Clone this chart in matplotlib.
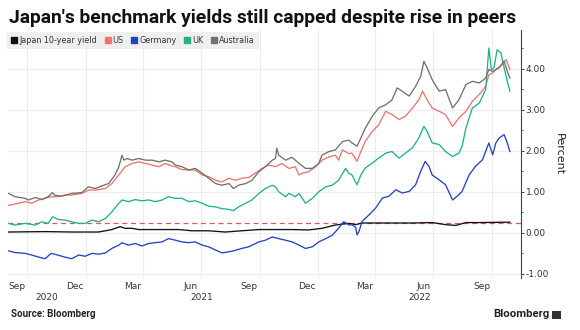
import matplotlib
matplotlib.use('Agg')
import matplotlib.pyplot as plt
import matplotlib.dates as mdates
import matplotlib.transforms as mtransforms
from matplotlib.patches import Rectangle
from matplotlib.lines import Line2D
from matplotlib.ticker import MultipleLocator, FormatStrFormatter
import pandas as pd

# ---------------- data ----------------
title = "Japan's benchmark yields still capped despite rise in peers"
series_names = ["Japan 10-year yield", "US", "Germany", "UK", "Australia"]
series_colors = ["#111111", "#ef7470", "#2443c2", "#1fb38b", "#717171"]
cap_level = 0.25

month_tick_dates = ["2020-09-15", "2020-12-15", "2021-03-15", "2021-06-15", "2021-09-15",
                    "2021-12-15", "2022-03-15", "2022-06-15", "2022-09-15"]
month_tick_labels = ["Sep", "Dec", "Mar", "Jun", "Sep", "Dec", "Mar", "Jun", "Sep"]
grid_dates = ["2020-10-01", "2021-01-01", "2021-04-01", "2021-07-01", "2021-10-01",
              "2022-01-01", "2022-04-01", "2022-07-01", "2022-10-01"]
years = [2020, 2021, 2022]
x_start, x_end = "2020-09-01", "2022-11-15"
y_ticks = [-1, 0, 1, 2, 3, 4]

aus_dates = ['2020-09-02','2020-09-12','2020-09-28','2020-10-03','2020-10-14','2020-10-24','2020-11-03','2020-11-10',
             '2020-11-13','2020-11-24','2020-12-10','2020-12-26','2021-01-05','2021-01-16','2021-01-26','2021-02-06',
             '2021-02-16','2021-02-22','2021-02-27','2021-03-02','2021-03-07','2021-03-15','2021-03-25','2021-04-05',
             '2021-04-15','2021-04-26','2021-05-06','2021-05-16','2021-05-22','2021-06-01','2021-06-12','2021-06-22',
             '2021-07-03','2021-07-13','2021-07-24','2021-08-03','2021-08-14','2021-08-21','2021-08-29','2021-09-09',
             '2021-09-19','2021-09-30','2021-10-10','2021-10-21','2021-10-26','2021-10-28','2021-10-31','2021-11-11',
             '2021-11-21','2021-12-02','2021-12-12','2021-12-23','2022-01-02','2022-01-07','2022-01-18','2022-01-28',
             '2022-02-08','2022-02-18','2022-02-23','2022-03-03','2022-03-09','2022-03-16','2022-03-27','2022-04-06',
             '2022-04-17','2022-04-27','2022-05-05','2022-05-13','2022-05-24','2022-06-03','2022-06-11','2022-06-16',
             '2022-06-21','2022-06-29','2022-07-10','2022-07-20','2022-07-31','2022-08-10','2022-08-21','2022-08-31',
             '2022-09-11','2022-09-21','2022-09-26','2022-10-02','2022-10-12','2022-10-20','2022-10-25','2022-10-29']
aus_vals = [0.96,0.88,0.84,0.80,0.86,0.81,0.88,0.98,0.92,0.89,0.96,0.98,1.12,1.08,1.14,1.20,1.41,1.61,1.89,1.77,
            1.81,1.77,1.81,1.77,1.77,1.73,1.77,1.73,1.65,1.61,1.53,1.57,1.45,1.33,1.20,1.16,1.20,1.08,1.16,1.20,
            1.28,1.49,1.61,1.77,1.81,2.06,1.89,1.77,1.84,1.69,1.57,1.57,1.69,1.89,1.98,2.02,2.22,2.26,2.19,2.11,
            2.31,2.55,2.84,3.04,3.12,3.24,3.53,3.45,3.33,3.57,3.81,4.18,4.02,3.73,3.45,3.49,3.04,3.24,3.61,3.69,
            3.65,3.77,3.98,3.93,4.02,4.18,3.93,3.77]

us_dates = ['2020-09-02','2020-09-12','2020-09-28','2020-10-08','2020-10-19','2020-10-29','2020-11-08','2020-11-18',
            '2020-11-29','2020-12-10','2020-12-26','2021-01-05','2021-01-16','2021-02-01','2021-02-11','2021-02-22',
            '2021-03-04','2021-03-15','2021-03-25','2021-04-05','2021-04-15','2021-04-26','2021-05-06','2021-05-16',
            '2021-05-22','2021-06-01','2021-06-12','2021-06-22','2021-07-03','2021-07-13','2021-07-24','2021-08-03',
            '2021-08-14','2021-08-24','2021-09-03','2021-09-14','2021-09-24','2021-10-05','2021-10-15','2021-10-26',
            '2021-11-05','2021-11-16','2021-11-26','2021-12-02','2021-12-07','2021-12-17','2021-12-28','2022-01-07',
            '2022-01-18','2022-01-28','2022-02-02','2022-02-08','2022-02-18','2022-02-23','2022-03-03','2022-03-09',
            '2022-03-16','2022-03-27','2022-04-06','2022-04-17','2022-04-27','2022-05-08','2022-05-18','2022-05-29',
            '2022-06-08','2022-06-14','2022-06-21','2022-06-29','2022-07-10','2022-07-20','2022-07-31','2022-08-10',
            '2022-08-21','2022-08-31','2022-09-11','2022-09-21','2022-09-26','2022-10-02','2022-10-07','2022-10-17',
            '2022-10-23','2022-10-29']
us_vals = [0.67,0.70,0.76,0.72,0.80,0.84,0.88,0.88,0.92,0.92,0.96,1.04,1.04,1.08,1.20,1.41,1.61,1.69,1.73,1.69,
           1.65,1.61,1.69,1.63,1.61,1.54,1.53,1.53,1.41,1.37,1.28,1.24,1.33,1.28,1.33,1.35,1.45,1.57,1.65,1.61,
           1.69,1.57,1.61,1.41,1.45,1.49,1.61,1.77,1.85,1.89,1.77,2.02,1.93,1.94,1.74,1.98,2.23,2.47,2.63,2.96,
           2.88,2.76,2.84,3.04,3.24,3.45,3.24,3.04,2.96,2.88,2.59,2.80,2.96,3.20,3.37,3.57,3.85,3.89,3.98,4.10,
           4.22,3.98]

uk_dates = ['2020-09-02','2020-09-12','2020-09-28','2020-10-14','2020-10-24','2020-11-03','2020-11-10','2020-11-18',
            '2020-11-29','2020-12-10','2020-12-21','2020-12-31','2021-01-11','2021-01-21','2021-02-01','2021-02-11',
            '2021-02-22','2021-02-27','2021-03-09','2021-03-20','2021-03-30','2021-04-10','2021-04-20','2021-05-01',
            '2021-05-11','2021-05-22','2021-06-01','2021-06-12','2021-06-22','2021-07-03','2021-07-13','2021-07-24',
            '2021-08-03','2021-08-14','2021-08-21','2021-08-29','2021-09-09','2021-09-19','2021-09-30','2021-10-10',
            '2021-10-21','2021-10-26','2021-10-31','2021-11-11','2021-11-16','2021-11-26','2021-12-02','2021-12-12',
            '2021-12-23','2022-01-02','2022-01-13','2022-01-23','2022-02-02','2022-02-13','2022-02-18','2022-02-23',
            '2022-03-03','2022-03-09','2022-03-16','2022-03-27','2022-04-06','2022-04-17','2022-04-27','2022-05-08',
            '2022-05-18','2022-05-29','2022-06-08','2022-06-16','2022-06-21','2022-06-29','2022-07-10','2022-07-20',
            '2022-07-31','2022-08-10','2022-08-15','2022-08-21','2022-08-31','2022-09-11','2022-09-21','2022-09-26',
            '2022-09-30','2022-10-04','2022-10-09','2022-10-15','2022-10-20','2022-10-25','2022-10-29']
uk_vals = [0.23,0.19,0.23,0.19,0.27,0.23,0.39,0.33,0.31,0.27,0.23,0.23,0.31,0.27,0.35,0.51,0.72,0.80,0.76,0.81,
           0.78,0.80,0.76,0.80,0.88,0.84,0.84,0.76,0.78,0.72,0.65,0.63,0.59,0.57,0.54,0.63,0.72,0.80,0.96,1.08,
           1.16,1.12,1.00,0.88,0.96,0.88,0.96,0.72,0.84,1.00,1.12,1.16,1.28,1.57,1.45,1.41,1.17,1.41,1.58,1.70,
           1.82,1.94,1.98,1.82,1.94,2.07,2.31,2.59,2.47,2.19,2.15,1.98,1.86,1.94,2.11,2.55,3.04,3.16,3.49,4.50,
           3.98,4.02,4.46,4.38,4.02,3.69,3.45]

de_dates = ['2020-09-02','2020-09-12','2020-09-28','2020-10-08','2020-10-19','2020-10-29','2020-11-08','2020-11-18',
            '2020-11-29','2020-12-10','2020-12-21','2020-12-31','2021-01-11','2021-01-21','2021-02-01','2021-02-11',
            '2021-02-22','2021-02-27','2021-03-09','2021-03-20','2021-03-30','2021-04-10','2021-04-20','2021-05-01',
            '2021-05-11','2021-05-22','2021-06-01','2021-06-12','2021-06-22','2021-07-03','2021-07-13','2021-07-24',
            '2021-08-03','2021-08-14','2021-08-21','2021-09-03','2021-09-14','2021-09-30','2021-10-10','2021-10-21',
            '2021-10-31','2021-11-11','2021-11-21','2021-12-02','2021-12-12','2021-12-23','2022-01-02','2022-01-13',
            '2022-01-23','2022-02-02','2022-02-10','2022-02-15','2022-02-18','2022-02-23','2022-03-01','2022-03-03',
            '2022-03-06','2022-03-11','2022-03-22','2022-04-01','2022-04-12','2022-04-22','2022-05-03','2022-05-13',
            '2022-05-24','2022-06-03','2022-06-11','2022-06-18','2022-06-24','2022-06-29','2022-07-10','2022-07-20',
            '2022-07-31','2022-08-10','2022-08-15','2022-08-26','2022-09-05','2022-09-16','2022-09-26','2022-10-02',
            '2022-10-07','2022-10-12','2022-10-20','2022-10-25','2022-10-29']
de_vals = [-0.44,-0.48,-0.50,-0.54,-0.59,-0.63,-0.50,-0.54,-0.59,-0.63,-0.54,-0.57,-0.50,-0.52,-0.49,-0.38,
           -0.30,-0.24,-0.30,-0.26,-0.32,-0.26,-0.24,-0.22,-0.14,-0.18,-0.22,-0.24,-0.22,-0.30,-0.34,-0.42,
           -0.49,-0.46,-0.44,-0.38,-0.34,-0.22,-0.18,-0.10,-0.14,-0.18,-0.22,-0.30,-0.38,-0.34,-0.22,-0.14,
           -0.06,0.11,0.27,0.23,0.19,0.20,0.13,-0.05,0.03,0.28,0.44,0.60,0.85,0.89,1.05,0.97,1.01,1.17,1.50,
           1.74,1.62,1.41,1.29,1.17,0.80,0.93,1.01,1.41,1.62,1.78,2.19,1.90,2.19,2.31,2.39,2.19,1.98]

jp_dates = ['2020-09-02','2020-10-29','2020-12-10','2021-01-21','2021-02-01','2021-02-11','2021-02-24','2021-03-04',
            '2021-03-15','2021-03-25','2021-04-15','2021-05-27','2021-06-17','2021-07-13','2021-08-08','2021-09-03',
            '2021-09-30','2021-10-26','2021-11-21','2021-12-17','2022-01-07','2022-01-28','2022-02-18','2022-03-01',
            '2022-03-11','2022-04-06','2022-05-29','2022-06-29','2022-07-20','2022-08-05','2022-08-21','2022-09-11',
            '2022-10-29']
jp_vals = [0.02,0.03,0.02,0.02,0.05,0.08,0.15,0.11,0.11,0.08,0.08,0.08,0.05,0.05,0.02,0.05,0.08,0.08,0.08,0.07,
           0.11,0.19,0.23,0.20,0.24,0.24,0.24,0.25,0.20,0.18,0.25,0.25,0.26]

series = [(jp_dates, jp_vals), (us_dates, us_vals), (de_dates, de_vals), (uk_dates, uk_vals), (aus_dates, aus_vals)]
for d, v in series:
    assert len(d) == len(v)

# ---------------- figure ----------------
W, H = 580, 330
fig = plt.figure(figsize=(W / 100, H / 100), dpi=100)
fig.patch.set_facecolor('white')
ax_l, ax_r, ax_t, ax_b = 8, 520.7, 30, 278
ax = fig.add_axes([ax_l / W, (H - ax_b) / H, (ax_r - ax_l) / W, (ax_b - ax_t) / H])

# draw order: Australia, US, UK, Germany, Japan (Japan on top)
order = [4, 1, 3, 2, 0]
for i in order:
    d, v = series[i]
    ax.plot(pd.to_datetime(d), v, color=series_colors[i], lw=0.95, zorder=3 + i * 0.1,
            solid_joinstyle='round')

ax.axhline(cap_level, color='#e0585c', lw=0.9, ls=(0, (4, 3)), zorder=2.5)

ax.set_xlim(pd.Timestamp(x_start), pd.Timestamp(x_end))
ax.set_ylim(-1.10, 4.94)

# grid
for g in grid_dates:
    ax.axvline(pd.Timestamp(g), color='#ececec', lw=0.8, zorder=1)
for yv in y_ticks:
    ax.axhline(yv, color='#ececec', lw=0.8, zorder=1)

# x ticks: month labels, no marks
ax.set_xticks(pd.to_datetime(month_tick_dates))
ax.set_xticklabels(month_tick_labels)
ax.tick_params(axis='x', length=0, pad=3.2, labelsize=6.5, labelcolor='#333333')

# year labels centred in the visible part of each year
trans = mtransforms.blended_transform_factory(ax.transData, ax.transAxes)
x0n, x1n = ax.get_xlim()
for yr in years:
    a = max(mdates.date2num(pd.Timestamp(f"{yr}-01-01")), x0n)
    b = min(mdates.date2num(pd.Timestamp(f"{yr + 1}-01-01")), x1n)
    ax.text((a + b) / 2, -20 / (ax_b - ax_t), str(yr), transform=trans, ha='center', va='center',
            fontsize=6.5, color='#333333')

# y axis on the right
ax.yaxis.tick_right()
ax.yaxis.set_label_position('right')
ax.set_yticks(y_ticks)
ax.yaxis.set_major_formatter(FormatStrFormatter('%.2f'))
ax.yaxis.set_minor_locator(MultipleLocator(0.5))
ax.tick_params(axis='y', which='major', direction='out', length=2.5, width=0.7, color='#444444',
               pad=1, labelsize=6.5, labelcolor='#333333')
ax.tick_params(axis='y', which='minor', direction='out', length=1.5, width=0.6, color='#444444')
ax.set_ylabel('Percent', rotation=270, fontsize=8, color='#222222', labelpad=11)

for s in ['top', 'left', 'bottom']:
    ax.spines[s].set_visible(False)
ax.spines['right'].set_color('#444444')
ax.spines['right'].set_linewidth(0.8)

# legend
handles = [Line2D([], [], marker='s', ls='none', markersize=3.8, color=c) for c in series_colors]
leg = ax.legend(handles, series_names, loc='upper left', bbox_to_anchor=(7.4 / W, (H - 32) / H),
                bbox_transform=fig.transFigure, ncol=5, frameon=True, fancybox=False,
                facecolor='#efefef', edgecolor='none', framealpha=1, fontsize=5.8,
                handlelength=0.7, handletextpad=0.25, columnspacing=1.0, borderpad=0.5,
                borderaxespad=0)
for t in leg.get_texts():
    t.set_color('#333333')
leg.set_zorder(10)

# title & footer
fig.text(9 / W, (H - 22.8) / H, title, fontsize=13.9, fontweight='bold', family=['Roboto', 'DejaVu Sans'],
         color='#111111', ha='left', va='baseline')
fig.text(11 / W, (H - 314) / H, 'Source: Bloomberg', fontsize=7.0, fontweight='bold',
         family=['Roboto', 'DejaVu Sans'], color='#222222', ha='left', va='center')
fig.text(549 / W, (H - 314) / H, 'Bloomberg', fontsize=8.2, fontweight='bold',
         family=['Roboto', 'DejaVu Sans'], color='#222222', ha='right', va='center')
fig.patches.append(Rectangle((552 / W, (H - 319) / H), 9 / W, 8.5 / H, transform=fig.transFigure,
                             facecolor='#333333', edgecolor='none'))

fig.savefig('out.png', dpi=100, facecolor='white')
